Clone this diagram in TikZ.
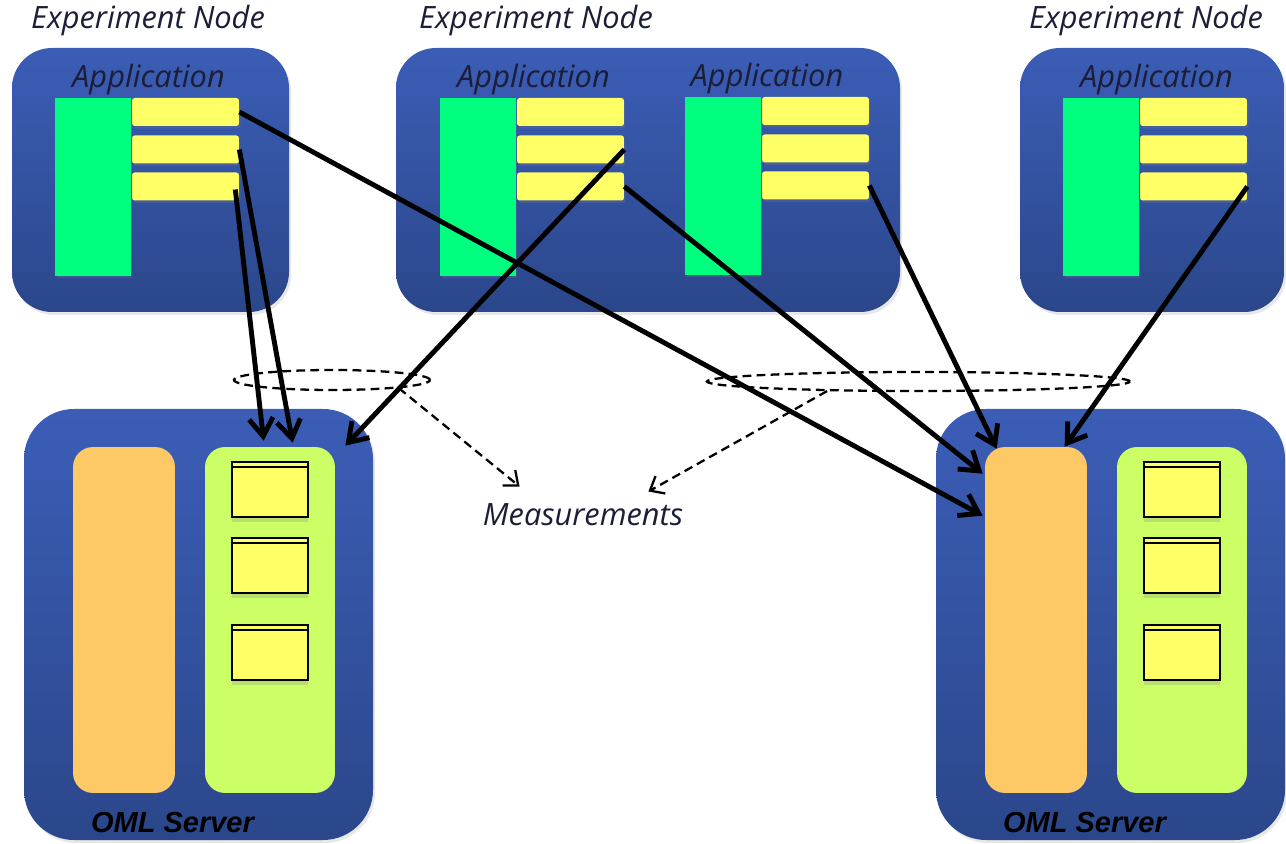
\documentclass[tikz,border=0pt]{standalone}
\usepackage{fontspec}
\setmainfont{Open Sans}
\newfontfamily\srvfont{Liberation Sans}
\definecolor{nodeblue}{HTML}{3B5DB6}
\definecolor{nodeblue2}{HTML}{2B478B}
\definecolor{appgreen}{HTML}{00FF7F}
\definecolor{mpyellow}{HTML}{FFFF66}
\definecolor{storeorange}{HTML}{FDC966}
\definecolor{dblime}{HTML}{CCFF66}
\definecolor{labelnavy}{HTML}{1B1E36}
\usetikzlibrary{arrows.meta,shapes.geometric,shadows}

\begin{document}
\begin{tikzpicture}[x=.02cm,y=-.02cm,
    hostbox/.style={top color=nodeblue,bottom color=nodeblue2,
      drop shadow={opacity=.18,shadow xshift=.04cm,shadow yshift=-.06cm}},
    lbl/.style={text=labelnavy,inner sep=0,
      font=\itshape\fontsize{17.5}{20}\selectfont},
    mpbar/.style={fill=mpyellow,rounded corners=1.5pt,inner sep=0,
      minimum width=2.14cm,minimum height=.56cm,
      drop shadow={opacity=.25,shadow xshift=.03cm,shadow yshift=-.05cm}},
    appbar/.style={fill=appgreen,inner sep=0,minimum width=1.52cm,
      minimum height=3.56cm,
      drop shadow={opacity=.25,shadow xshift=.03cm,shadow yshift=-.05cm}},
    dbtable/.style={draw=black,line width=1.2pt,fill=mpyellow,inner sep=0,
      minimum width=1.52cm,minimum height=1.1cm,
      drop shadow={opacity=.25,shadow xshift=0cm,shadow yshift=-.1cm}},
    flow/.style={line width=2.8pt,-{Straight Barb[length=3.6mm,width=4.8mm]}},
    tomeas/.style={line width=1.3pt,dash pattern=on 5pt off 3pt,
      -{Straight Barb[length=2.4mm,width=4mm]}}]
  \useasboundingbox (0,0) rectangle (1286,844);
  \fill[white] (0,0) rectangle (1286,844);
  % experiment nodes
  \foreach \x/\w/\cx in {12/289/148,396/900/536,1020/1284/1146}{
    \shade[hostbox,rounded corners=.8cm] (\x,48) rectangle (\w,312);
    \node[lbl] at (\cx,21) {Experiment Node};
  }
  \foreach \a/\x/\y/\lx in {a/55/98/93.5,b/440/98/93.5,c/685/97/82,d/1063/98/93.5}{
    \node[lbl] (\a-lbl) at (\x+\lx,\y-18) {Application};
    \node[appbar] (\a-app) at (\x+38,\y+89) {};
    \foreach \i/\dy in {1/14,2/51.5,3/88.5}
      \node[mpbar] (\a-\i) at (\x+130.5,\y+\dy) {};
  }
  % oml servers
  \foreach \s/\x in {s1/24,s2/936}{
    \shade[hostbox,rounded corners=1cm] (\x,409) rectangle (\x+349,840);
    \node[fill=storeorange,rounded corners=.4cm,inner sep=0,
      minimum width=2.04cm,minimum height=6.92cm] (\s-o) at (\x+100,620) {};
    \node[fill=dblime,rounded corners=.4cm,inner sep=0,
      minimum width=2.6cm,minimum height=6.92cm] (\s-g) at (\x+246,620) {};
    \foreach \i/\ty in {1/489.5,2/565.5,3/652.5}{
      \node[dbtable] (\s-t\i) at (\x+246,\ty) {};
      \draw[line width=1.6pt] ([yshift=-.12cm]\s-t\i.north west)
        -- ([yshift=-.12cm]\s-t\i.north east);
    }
    \node[inner sep=0,font=\srvfont\bfseries\itshape\fontsize{16.5}{19}\selectfont]
      (\s-lbl) at (\x+148.5,823) {OML Server};
  }
  % measurement streams
  \node[lbl] (meas) at (583,515) {Measurements};
  \node[ellipse,draw,line width=1.3pt,dash pattern=on 5pt off 3pt,
    minimum width=3.92cm,minimum height=.4cm] (m1) at (332,380) {};
  \node[ellipse,draw,line width=1.3pt,dash pattern=on 5pt off 3pt,
    minimum width=8.46cm,minimum height=.38cm] (m2) at (918.5,381.5) {};
  \draw[tomeas] (m1.-7) -- ([xshift=.74cm,yshift=.34cm]meas.north west);
  \draw[tomeas] (m2.-174) -- ([xshift=-.7cm,yshift=.24cm]meas.north east);
  \draw[flow] (a-1.east) -- ([xshift=-.04cm,yshift=-1.38cm]s2-o.north west);
  \draw[flow] (a-2.east) -- ([xshift=1.76cm,yshift=.08cm]s1-g.north west);
  \draw[flow] ([xshift=-.08cm,yshift=-.06cm]a-3.east)
    -- ([xshift=1.18cm,yshift=.12cm]s1-g.north west);
  \draw[flow] (b-2.east) -- ([xshift=.2cm,yshift=.02cm]s1-g.north east);
  \draw[flow] (b-3.east) -- ([xshift=-.04cm,yshift=-.54cm]s2-o.north west);
  \draw[flow] (c-3.east) -- ([xshift=.24cm,yshift=-.04cm]s2-o.north west);
  \draw[flow] (d-3.east) -- ([xshift=1.6cm]s2-o.north west);
\end{tikzpicture}
\end{document}
